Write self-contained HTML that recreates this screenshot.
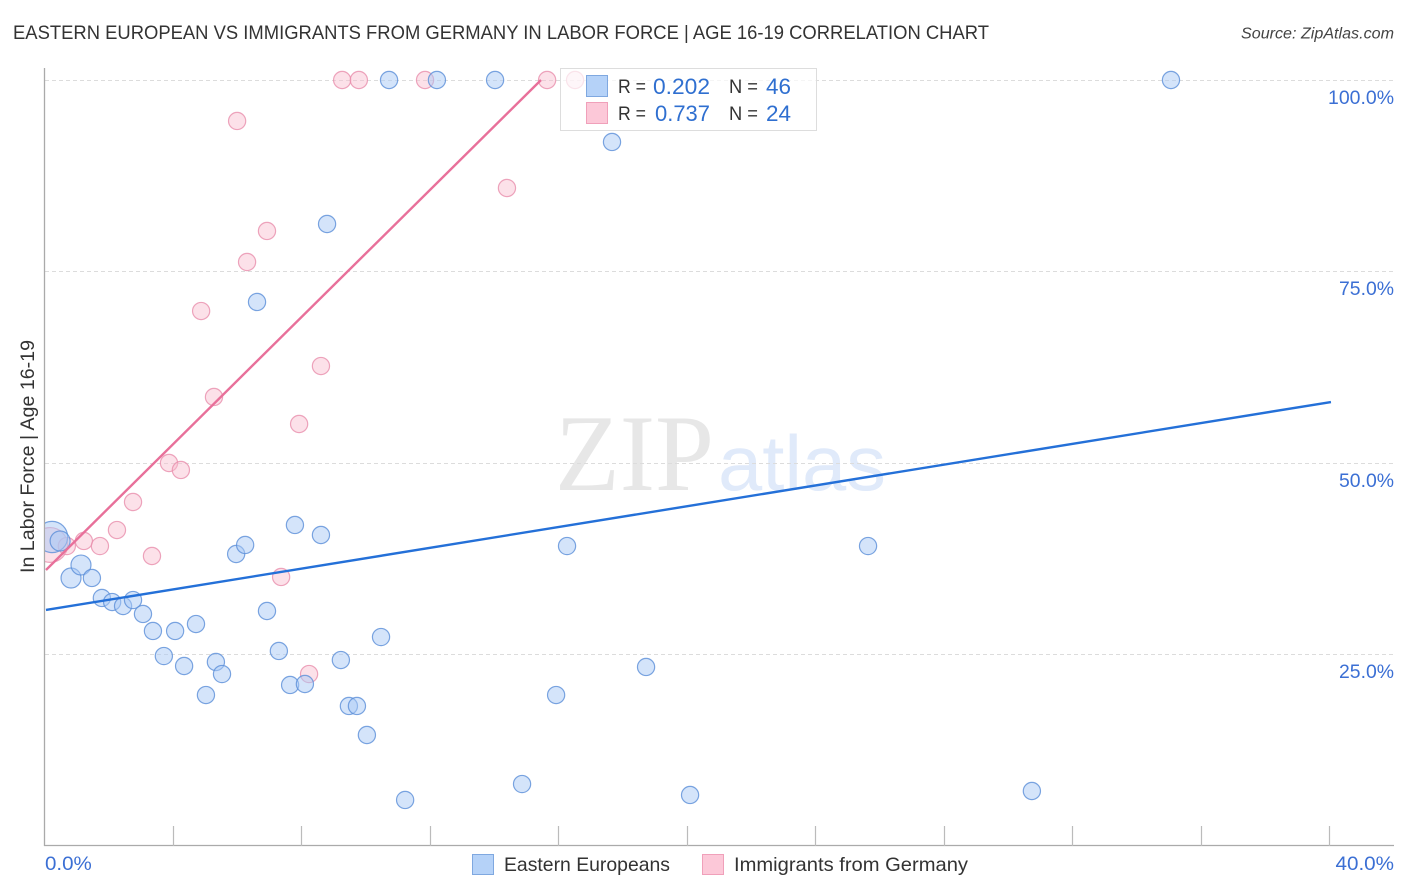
<!DOCTYPE html>
<html lang="en">
<head>
<meta charset="utf-8">
<title>Eastern European vs Immigrants from Germany in Labor Force | Age 16-19 Correlation Chart</title>
<style>
html,body{margin:0;padding:0;background:#fff;}
body{width:1406px;height:892px;overflow:hidden;}
svg{display:block;font-family:"Liberation Sans",sans-serif;}
</style>
</head>
<body>
<svg id="chart" xmlns="http://www.w3.org/2000/svg" width="1406" height="892" viewBox="0 0 1406 892">
  <defs>
    <clipPath id="plot-clip"><rect x="45" y="60" width="1349" height="786"/></clipPath>
  </defs>
  <rect x="0" y="0" width="1406" height="892" fill="#ffffff"/>
  <text x="13" y="39" font-size="19.5" fill="#333333" textLength="976" lengthAdjust="spacingAndGlyphs">EASTERN EUROPEAN VS IMMIGRANTS FROM GERMANY IN LABOR FORCE | AGE 16-19 CORRELATION CHART</text>
  <text x="1394" y="38.5" font-size="15.5" font-style="italic" fill="#444444" text-anchor="end" textLength="153" lengthAdjust="spacingAndGlyphs">Source: ZipAtlas.com</text>

  <g>
    <text x="555" y="490" style="font-family:'Liberation Serif',serif" font-size="109" fill="#e7e7e7" textLength="159" lengthAdjust="spacingAndGlyphs">ZIP</text>
    <text x="718" y="490" style="font-family:'Liberation Sans',sans-serif" font-size="78" fill="#e0eafa" textLength="168" lengthAdjust="spacingAndGlyphs">atlas</text>
  </g>

  <g id="grid"></g>
  <g id="axes"></g>
  <g id="pink-points" clip-path="url(#plot-clip)"></g>
  <g id="blue-points" clip-path="url(#plot-clip)"></g>
  <g id="trends"></g>

  <text transform="translate(34,456.5) rotate(-90)" font-size="19" fill="#333333" text-anchor="middle" textLength="233" lengthAdjust="spacingAndGlyphs">In Labor Force | Age 16-19</text>

  <g>
    <rect x="560.5" y="68.5" width="256" height="62" fill="#ffffff" fill-opacity="0.7" stroke="#dddddd" stroke-width="1"/>
    <rect x="586.5" y="75.5" width="21" height="21" fill="#b5d2f8" stroke="#7fa8e0" stroke-width="1"/>
    <rect x="586.5" y="102.5" width="21" height="21" fill="#fcc8d8" stroke="#f0a0ba" stroke-width="1"/>
    <text x="618" y="93" font-size="19.5" fill="#333333" textLength="28" lengthAdjust="spacingAndGlyphs">R =</text>
    <text x="653" y="94" font-size="22" fill="#2f6fd0" textLength="57" lengthAdjust="spacingAndGlyphs">0.202</text>
    <text x="729" y="93" font-size="19.5" fill="#333333" textLength="29" lengthAdjust="spacingAndGlyphs">N =</text>
    <text x="766" y="94" font-size="22" fill="#2f6fd0" textLength="25" lengthAdjust="spacingAndGlyphs">46</text>
    <text x="618" y="120" font-size="19.5" fill="#333333" textLength="28" lengthAdjust="spacingAndGlyphs">R =</text>
    <text x="655" y="121" font-size="22" fill="#2f6fd0" textLength="55" lengthAdjust="spacingAndGlyphs">0.737</text>
    <text x="729" y="120" font-size="19.5" fill="#333333" textLength="29" lengthAdjust="spacingAndGlyphs">N =</text>
    <text x="766" y="121" font-size="22" fill="#2f6fd0" textLength="25" lengthAdjust="spacingAndGlyphs">24</text>
  </g>

  <g>
    <rect x="472.5" y="854.5" width="21" height="20" fill="#b5d2f8" stroke="#7fa8e0" stroke-width="1"/>
    <text x="504" y="871" font-size="19.5" fill="#333333" textLength="166" lengthAdjust="spacingAndGlyphs">Eastern Europeans</text>
    <rect x="702.5" y="854.5" width="21" height="20" fill="#fcc8d8" stroke="#f0a0ba" stroke-width="1"/>
    <text x="734" y="871" font-size="19.5" fill="#333333" textLength="234" lengthAdjust="spacingAndGlyphs">Immigrants from Germany</text>
  </g>
</svg>
<script>
var eastX = [0.22,0.47,0.81,1.12,1.46,1.77,2.09,2.43,2.74,3.05,3.36,4.05,4.70,3.70,4.33,5.32,5.51,5.01,5.95,6.23,6.60,6.91,7.28,7.63,8.09,7.78,8.59,8.78,9.21,9.46,9.71,10.02,10.46,11.21,10.71,12.20,14.01,14.85,15.91,16.25,17.65,18.71,20.08,25.62,30.72,35.05];
var eastY = [40.34,39.82,34.99,36.68,34.99,32.38,31.85,31.33,32.11,30.29,28.07,28.07,28.98,24.80,23.50,24.02,22.45,19.71,38.12,39.30,71.02,30.68,25.46,21.02,21.15,41.91,40.60,81.20,24.28,18.28,18.28,14.49,27.28,6.01,100,100,100,8.09,19.71,39.16,91.91,23.37,6.66,39.16,7.18,100];
var eastWeight = [3.3,1.35,1.35,1.35,1,1,1,1,1,1,1,1,1,1,1,1,1,1,1,1,1,1,1,1,1,1,1,1,1,1,1,1,1,1,1,1,1,1,1,1,1,1,1,1,1,1];
var germanX = [0.16,0.68,1.21,1.71,2.24,2.74,3.33,3.86,4.23,4.86,5.26,5.98,6.29,6.91,7.35,7.91,8.22,8.59,9.25,9.77,11.83,14.38,15.63,16.50];
var germanY = [39.3,39.16,39.82,39.16,41.25,44.91,37.86,50.0,49.09,69.84,58.62,94.65,76.24,80.29,35.12,55.09,22.45,62.66,100,100,100,85.90,100,100];
var germanWeight = [4.1,1,1,1,1,1,1,1,1,1,1,1,1,1,1,1,1,1,1,1,1,1,1,1];
var eastTrendX = [0.03,40.03];
var eastTrendY = [30.81,57.96];
var germanTrendX = [0.03,15.44];
var germanTrendY = [36.03,100];
var yTicks = [25,50,75,100];
var yTickLabels = ["25.0%","50.0%","75.0%","100.0%"];
var xTicks = [4,8,12,16,20,24,28,32,36,40];
var xEndLabels = ["0.0%","40.0%"];

var NS = 'http://www.w3.org/2000/svg';
function xScale(v){ return 45 + v * 32.125; }
function yScale(v){ return 846 - v * 7.66; }
function make(tag, attrs, parent){
  var el = document.createElementNS(NS, tag);
  for (var k in attrs) el.setAttribute(k, attrs[k]);
  parent.appendChild(el);
  return el;
}
var grid = document.getElementById('grid');
var axes = document.getElementById('axes');
var pinkLayer = document.getElementById('pink-points');
var blueLayer = document.getElementById('blue-points');
var trends = document.getElementById('trends');

yTicks.forEach(function(t, i){
  var y = Math.floor(yScale(t)) + 0.5;
  var line = make('line', {x1:45, x2:1394, y1:y, y2:y, stroke:'#dcdcdc', 'stroke-width':1, 'stroke-dasharray':'4 3'}, grid);
  
  
  var label = make('text', {x:1394, y:y + 23.5, 'font-size':19.5, fill:'#3b6fd4', 'text-anchor':'end', textLength:yTickLabels[i].length * 11, lengthAdjust:'spacingAndGlyphs'}, axes);
  label.textContent = yTickLabels[i];
  
  
});

var leftAxis = make('line', {x1:44.5, x2:44.5, y1:68, y2:846, stroke:'#aaaaaa', 'stroke-width':1.3}, axes);


var bottomAxis = make('line', {x1:44, x2:1394, y1:845.5, y2:845.5, stroke:'#aaaaaa', 'stroke-width':1.3}, axes);



xTicks.forEach(function(t){
  var x = Math.floor(xScale(t) - 0.5) + 0.5;
  var tick = make('line', {x1:x, x2:x, y1:826, y2:846, stroke:'#bbbbbb', 'stroke-width':1.2}, axes);
  
  
});

var xLabelLeft = make('text', {x:45, y:870, 'font-size':19.5, fill:'#3b6fd4', textLength:xEndLabels[0].length * 11.7, lengthAdjust:'spacingAndGlyphs'}, axes);
xLabelLeft.textContent = xEndLabels[0];


var xLabelRight = make('text', {x:1394, y:870, 'font-size':19.5, fill:'#3b6fd4', 'text-anchor':'end', textLength:xEndLabels[1].length * 11.7, lengthAdjust:'spacingAndGlyphs'}, axes);
xLabelRight.textContent = xEndLabels[1];



germanX.forEach(function(v, i){
  var c = make('circle', {cx:xScale(v), cy:yScale(germanY[i]), r:8.6 * Math.sqrt(germanWeight[i]), fill:'#f9bccf', 'fill-opacity':0.45, stroke:'#e88fad', 'stroke-opacity':0.8, 'stroke-width':1.2}, pinkLayer);
  
  
});
eastX.forEach(function(v, i){
  var c = make('circle', {cx:xScale(v), cy:yScale(eastY[i]), r:8.6 * Math.sqrt(eastWeight[i]), fill:'#a9c9f5', 'fill-opacity':0.5, stroke:'#5b8fd8', 'stroke-opacity':0.8, 'stroke-width':1.2}, blueLayer);
  
  
});

var eastLine = make('line', {x1:xScale(eastTrendX[0]), y1:yScale(eastTrendY[0]), x2:xScale(eastTrendX[1]), y2:yScale(eastTrendY[1]), stroke:'#2470d8', 'stroke-width':2.4}, trends);


var germanLine = make('line', {x1:xScale(germanTrendX[0]), y1:yScale(germanTrendY[0]), x2:xScale(germanTrendX[1]), y2:yScale(germanTrendY[1]), stroke:'#e8709a', 'stroke-width':2.4}, trends);


</script>
</body>
</html>
